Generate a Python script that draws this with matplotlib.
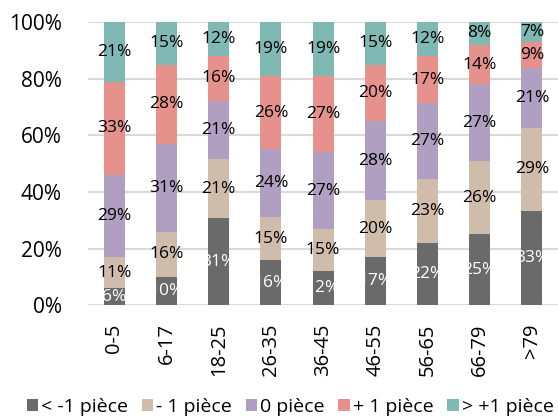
import matplotlib.pyplot as plt
import numpy as np

plt.rcParams['font.family'] = ['Open Sans', 'DejaVu Sans']

# age groups
categories = ['0-5', '6-17', '18-25', '26-35', '36-45', '46-55', '56-65', '66-79', '>79']
series_names = ['< -1 pièce', '- 1 pièce', '0 pièce', '+ 1 pièce', '> +1 pièce']

moins_plus_1 = [6, 10, 31, 16, 12, 17, 22, 25, 33]
moins_1 = [11, 16, 21, 15, 15, 20, 23, 26, 29]
zero = [29, 31, 21, 24, 27, 28, 27, 27, 21]
plus_1 = [33, 28, 16, 26, 27, 20, 17, 14, 9]
plus_plus_1 = [21, 15, 12, 19, 19, 15, 12, 8, 7]

colors = ['#6a6a6a', '#cfbcaa', '#b09fc0', '#e6918b', '#80b9b3']
text_colors = ['white', 'black', 'black', 'black', 'black']

series = [moins_plus_1, moins_1, zero, plus_1, plus_plus_1]
# 100% stacked: scale each column to its total
totals = np.sum(np.array(series, dtype=float), axis=0)

fig = plt.figure(figsize=(5.58, 4.18), dpi=100)
ax = fig.add_axes([0.158, 0.27, 0.842, 0.677])

x = np.arange(len(categories))
bottom = np.zeros(len(categories))
handles = []
for vals, col, tcol, name in zip(series, colors, text_colors, series_names):
    vals = np.array(vals, dtype=float)
    h = vals / totals * 100
    b = ax.bar(x, h, 0.4, bottom=bottom, color=col, label=name, zorder=3)
    handles.append(b)
    for xi, v, hh, bo in zip(x, vals, h, bottom):
        ax.text(xi, bo + hh / 2, '%d%%' % v, ha='center', va='center',
                fontsize=12.5, color=tcol, zorder=4)
    bottom += h

ax.set_xlim(-0.5, len(categories) - 0.5)
ax.set_ylim(0, 100)
ax.set_yticks([0, 20, 40, 60, 80, 100])
ax.set_yticklabels(['%d%%' % t for t in [0, 20, 40, 60, 80, 100]], fontsize=15)
ax.set_xticks(x)
ax.set_xticklabels(categories, rotation=90, fontsize=14.5)
ax.tick_params(axis='y', length=0, pad=19)
ax.tick_params(axis='x', length=0, pad=13)
ax.grid(axis='y', color='#d9d9d9', linewidth=1.5, zorder=0)
for s in ax.spines.values():
    s.set_visible(False)

fig.legend(handles=handles, labels=series_names, loc='center', bbox_to_anchor=(0.52, 0.027),
           ncol=5, frameon=False, fontsize=14, handlelength=0.6, handleheight=0.6,
           handletextpad=0.15, columnspacing=0.7)

fig.savefig('out.png', dpi=100)
